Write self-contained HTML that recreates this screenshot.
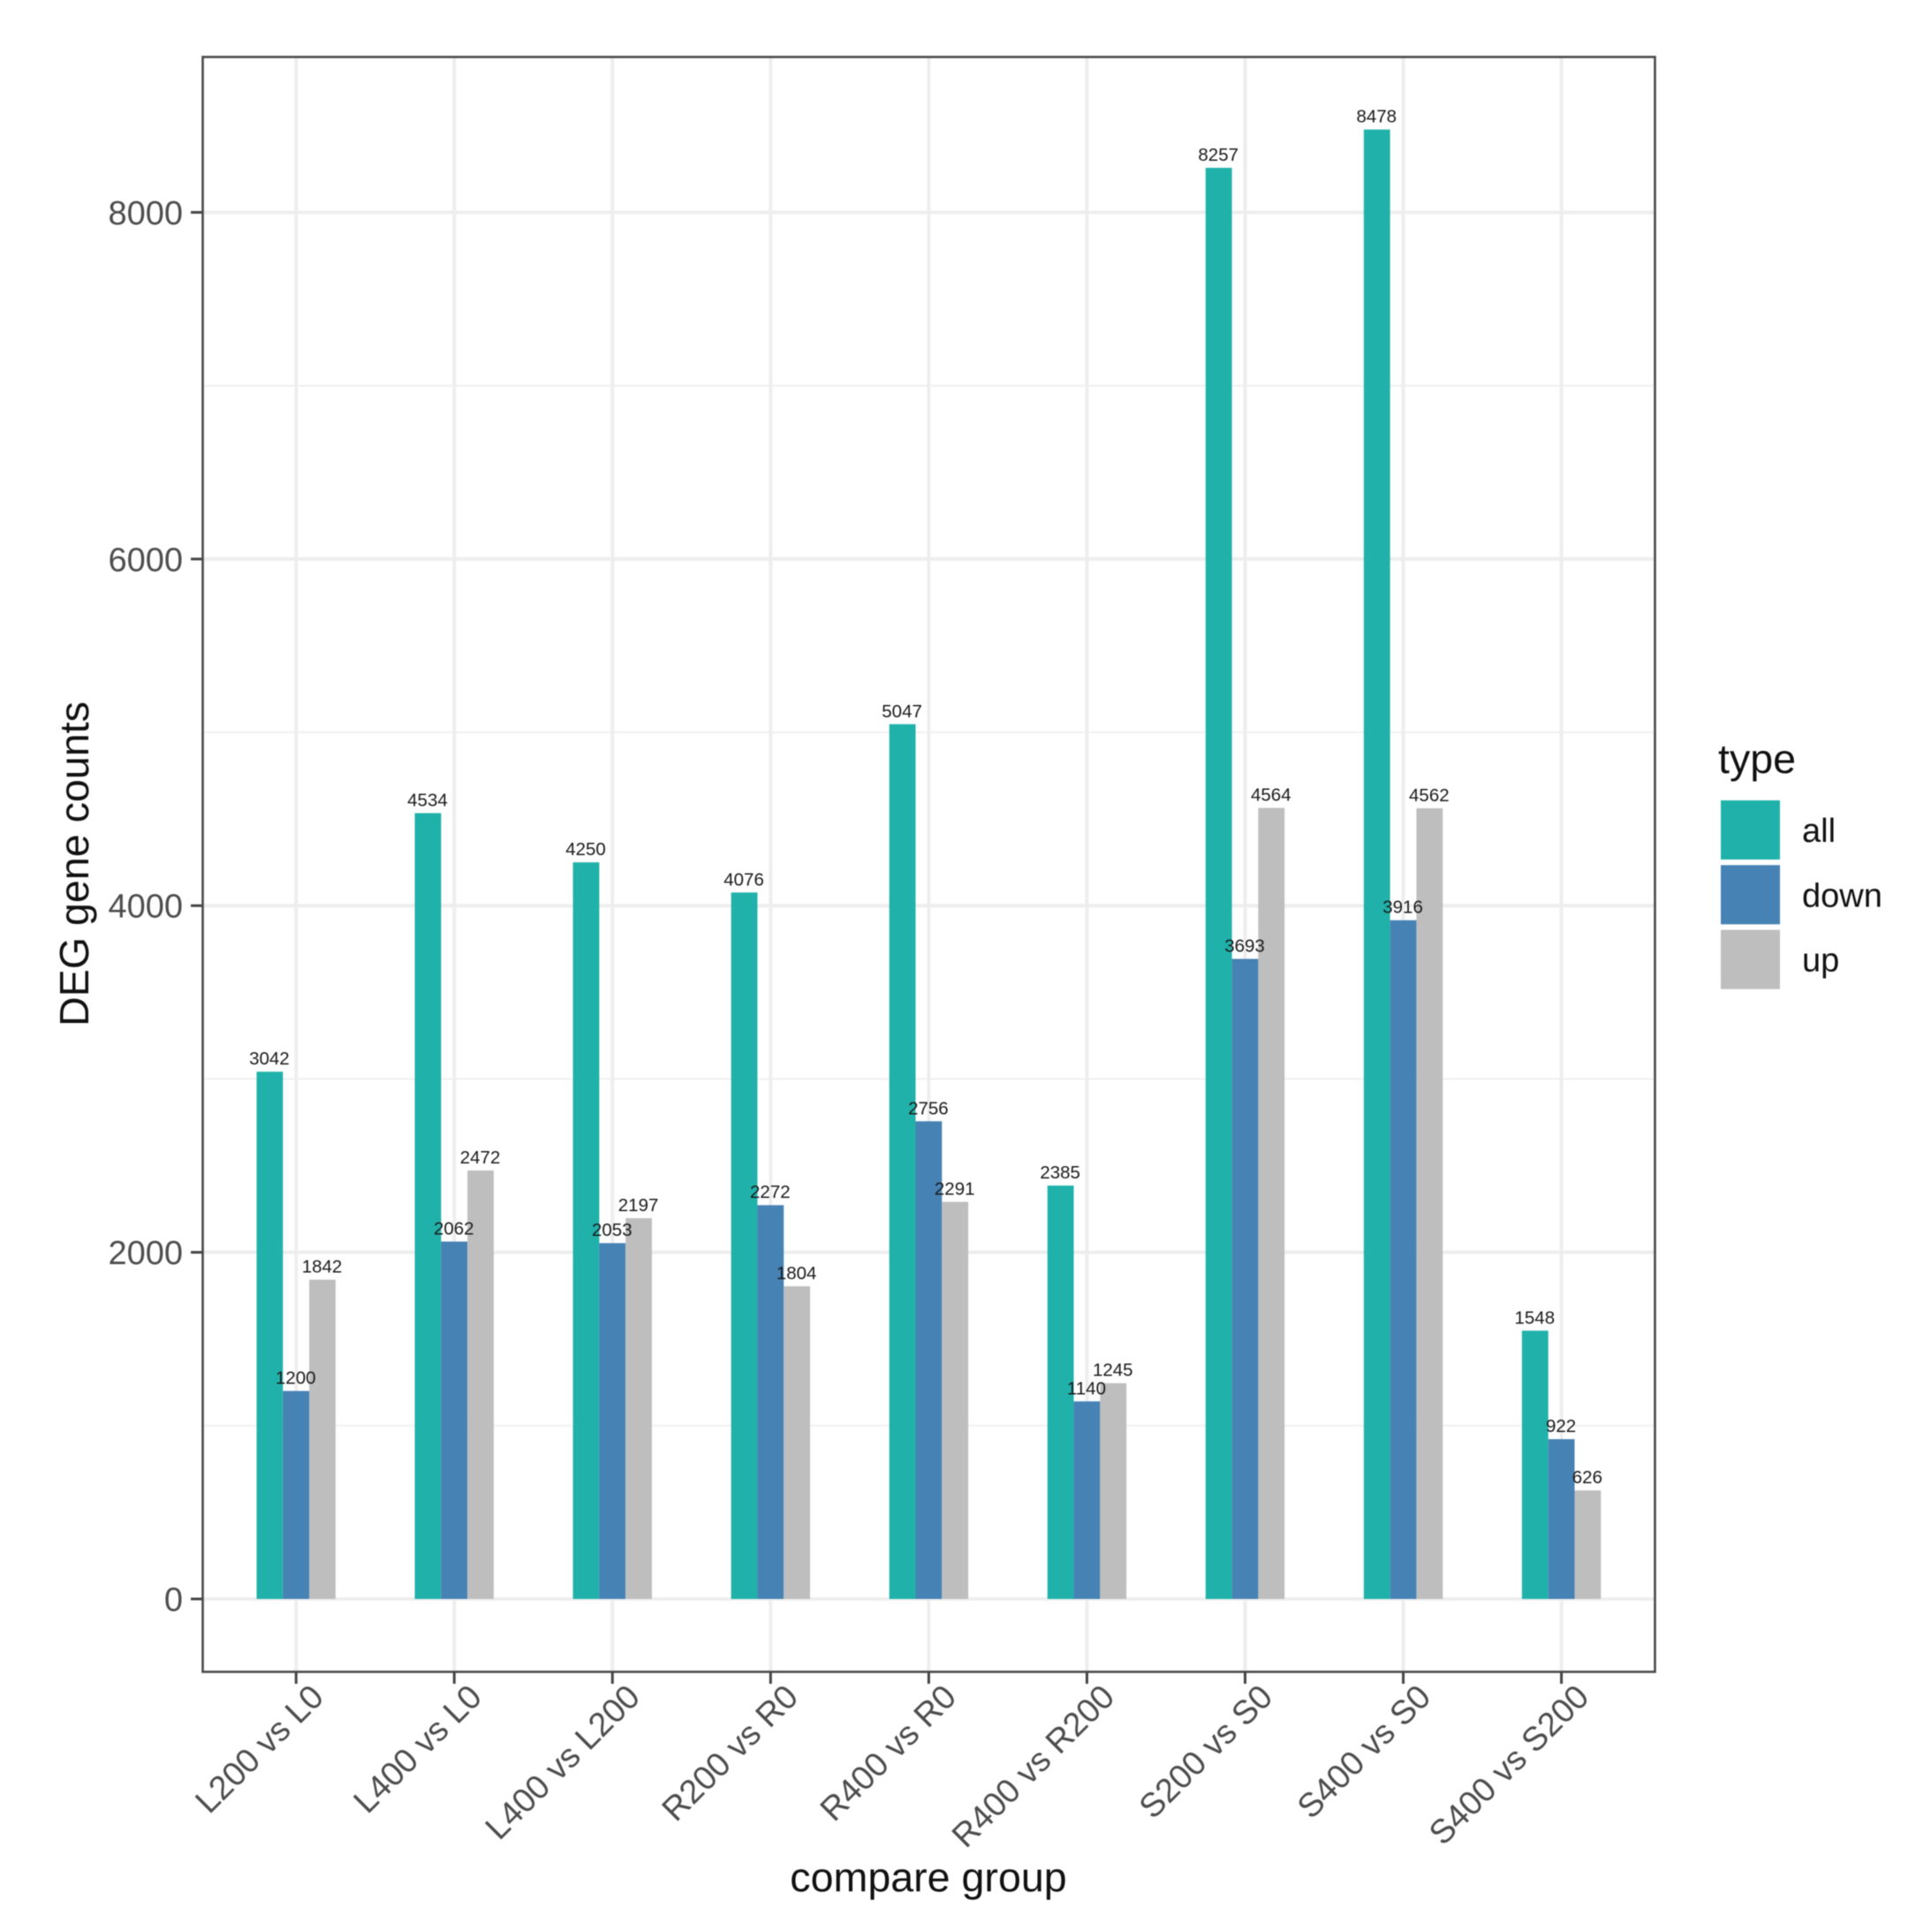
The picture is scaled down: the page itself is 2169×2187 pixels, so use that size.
<!DOCTYPE html>
<html>
<head>
<meta charset="utf-8">
<title>DEG gene counts</title>
<style>
html,body{margin:0;padding:0;background:#fff;}
svg{display:block;font-family:"Liberation Sans",Arial,sans-serif;filter:blur(0.6px);}
</style>
</head>
<body>
<svg id="chart" xmlns="http://www.w3.org/2000/svg" width="2169" height="2187" viewBox="0 0 2169 2187">
  <rect x="0" y="0" width="2169" height="2187" fill="#ffffff"/>
  <g id="grid"></g>
  <g id="bars"></g>
  <g id="labels"></g>
  <rect x="229.5" y="64.5" width="1644" height="1828" fill="none" stroke="#4a4a4a" stroke-width="2.6"/>
  <g id="axes"></g>
  <text transform="translate(100,978) rotate(-90)" text-anchor="middle" font-size="46.6" fill="#111">DEG gene counts</text>
  <text x="1051" y="2141" text-anchor="middle" font-size="46.6" fill="#111">compare group</text>
  <g id="legend">
    <text x="1945" y="875" font-size="46.6" fill="#111">type</text>
  </g>
</svg>
<script>
const categories = ["L200 vs L0","L400 vs L0","L400 vs L200","R200 vs R0","R400 vs R0","R400 vs R200","S200 vs S0","S400 vs S0","S400 vs S200"];
const seriesNames = ["all","down","up"];
const allValues = [3042,4534,4250,4076,5047,2385,8257,8478,1548];
const downValues = [1200,2062,2053,2272,2756,1140,3693,3916,922];
const upValues = [1842,2472,2197,1804,2291,1245,4564,4562,626];
const yMajorTicks = [0,2000,4000,6000,8000];
const yMinorTicks = [1000,3000,5000,7000];

const NS = "http://www.w3.org/2000/svg";
const colors = {all:"#20B2AA",down:"#4682B4",up:"#BEBEBE"};
const seriesValues = {all:allValues,down:downValues,up:upValues};
const panel = {left:229.5,right:1873.5,top:64.5,bottom:1892.5};
const x0 = 335.2, xStep = 179.05, barW = 29.8;
const y0 = 1810, yPerUnit = 0.19620;

function xScale(i){ return x0 + i * xStep; }
function yScale(v){ return y0 - v * yPerUnit; }
function make(tag, attrs, parent){
  const el = document.createElementNS(NS, tag);
  for (const k in attrs) el.setAttribute(k, attrs[k]);
  parent.appendChild(el);
  return el;
}

const grid = document.getElementById("grid");
const barsG = document.getElementById("bars");
const labelsG = document.getElementById("labels");
const axesG = document.getElementById("axes");
const legendG = document.getElementById("legend");

yMinorTicks.forEach(function(v){
  const el = make("line",{x1:panel.left,x2:panel.right,y1:yScale(v),y2:yScale(v),stroke:"#f2f2f2","stroke-width":2.2},grid);
  
  
});
yMajorTicks.forEach(function(v){
  const el = make("line",{x1:panel.left,x2:panel.right,y1:yScale(v),y2:yScale(v),stroke:"#eeeeee","stroke-width":4},grid);
  
  
});
categories.forEach(function(c,i){
  const el = make("line",{x1:xScale(i),x2:xScale(i),y1:panel.top,y2:panel.bottom,stroke:"#eeeeee","stroke-width":4},grid);
  
  
});

seriesNames.forEach(function(s,si){
  seriesValues[s].forEach(function(v,i){
    const cx = xScale(i) + (si-1)*barW;
    const r = make("rect",{x:cx-barW/2,y:yScale(v),width:barW,height:yScale(0)-yScale(v),fill:colors[s]},barsG);
    
    
  });
});
seriesNames.forEach(function(s,si){
  seriesValues[s].forEach(function(v,i){
    const cx = xScale(i) + (si-1)*barW;
    const t = make("text",{x:cx-0.5,y:yScale(v)-8,"text-anchor":"middle","font-size":20.5,fill:"#1a1a1a"},labelsG);
    
    
    t.textContent = String(v);
  });
});

yMajorTicks.forEach(function(v){
  const tick = make("line",{x1:216,x2:229,y1:yScale(v),y2:yScale(v),stroke:"#444","stroke-width":3},axesG);
  
  
  const t = make("text",{x:207,y:yScale(v)+13.5,"text-anchor":"end","font-size":38,fill:"#4d4d4d"},axesG);
  
  
  t.textContent = String(v);
});
categories.forEach(function(c,i){
  const tick = make("line",{x1:xScale(i),x2:xScale(i),y1:1893,y2:1906,stroke:"#444","stroke-width":3},axesG);
  
  
  const tx = xScale(i)+24, ty = 1914;
  const t = make("text",{transform:"translate("+tx+","+ty+") rotate(-45)","text-anchor":"end","font-size":38,fill:"#4d4d4d",x:0,y:13},axesG);
  
  
  t.textContent = c;
});

seriesNames.forEach(function(s,si){
  const top = 906 + si*73.3;
  const key = make("rect",{x:1948,y:top,width:67,height:67,fill:colors[s]},legendG);
  
  
  const t = make("text",{x:2040,y:top+47,"font-size":38,fill:"#111"},legendG);
  
  
  t.textContent = s;
});
</script>
</body>
</html>
